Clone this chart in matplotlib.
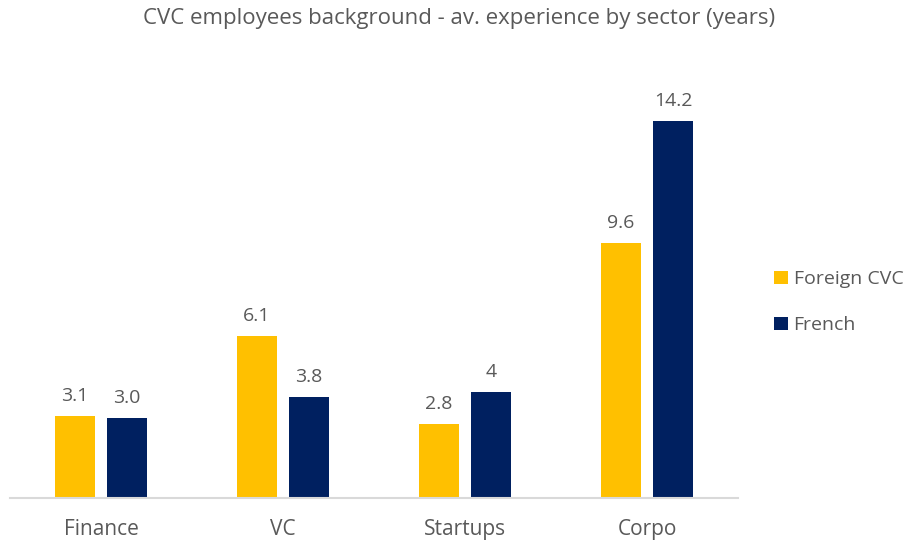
import matplotlib
matplotlib.use("Agg")
import matplotlib.pyplot as plt
import numpy as np

# data
sectors = ["Finance", "VC", "Startups", "Corpo"]
foreign_cvc = [3.1, 6.1, 2.8, 9.6]
french = [3.0, 3.8, 4.0, 14.2]
foreign_labels = ["3.1", "6.1", "2.8", "9.6"]
french_labels = ["3.0", "3.8", "4", "14.2"]

YELLOW = "#FFC000"
NAVY = "#002060"
GREY_TXT = "#595959"

plt.rcParams["font.family"] = ["Open Sans", "DejaVu Sans"]

fig = plt.figure(figsize=(9.17, 5.4), dpi=100)
ax = fig.add_axes([10 / 917, 42 / 540, 728 / 917, 425 / 540])

x = np.arange(len(sectors))
w = 0.22
off = 0.143
b1 = ax.bar(x - off, foreign_cvc, w, color=YELLOW, label="Foreign CVC")
b2 = ax.bar(x + off, french, w, color=NAVY, label="French")

for bars, labs in ((b1, foreign_labels), (b2, french_labels)):
    for rect, lab in zip(bars, labs):
        ax.annotate(lab, (rect.get_x() + rect.get_width() / 2, rect.get_height()),
                    xytext=(0, 8), textcoords="offset points",
                    ha="center", va="bottom", fontsize=14, color=GREY_TXT)

ax.set_xlim(-0.5, 3.5)
ax.set_ylim(0, 16)
ax.set_yticks([])
ax.set_xticks(x)
ax.set_xticklabels(sectors, fontsize=15, color=GREY_TXT)
ax.tick_params(axis="x", length=0, pad=15)
for s in ("top", "right", "left"):
    ax.spines[s].set_visible(False)
ax.spines["bottom"].set_color("#D9D9D9")
ax.spines["bottom"].set_linewidth(1.5)

fig.suptitle("CVC employees background - av. experience by sector (years)",
             x=0.501, y=0.985, fontsize=16, color=GREY_TXT)

leg = fig.legend(handles=[b1, b2], loc="center left", bbox_to_anchor=(0.840, 0.44),
                 frameon=False, fontsize=14, handlelength=0.7, handleheight=0.7,
                 handletextpad=0.3, labelspacing=1.45, labelcolor=GREY_TXT,
                 borderaxespad=0, borderpad=0.2)

fig.savefig("out.png", dpi=100)
